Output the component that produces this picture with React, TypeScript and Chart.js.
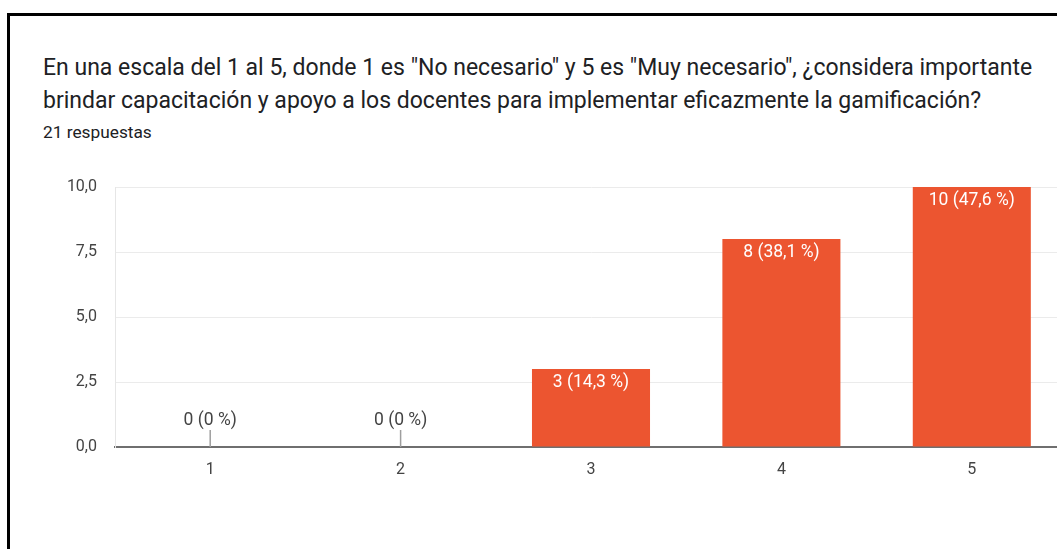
import React, { useEffect, useRef } from "react";
import { Chart, registerables } from "chart.js";

Chart.register(...registerables);

const categories = ["1", "2", "3", "4", "5"];
const counts = [0, 0, 3, 8, 10];
const totalResponses = 21;
const yTicks = [0, 2.5, 5, 7.5, 10];

const titleLine1 = 'En una escala del 1 al 5, donde 1 es "No necesario" y 5 es "Muy necesario", ¿considera importante';
const titleLine2 = "brindar capacitación y apoyo a los docentes para implementar eficazmente la gamificación?";
const subtitle = `${totalResponses} respuestas`;

const BAR_COLOR = "#ec5530";
const FONT = "Roboto, 'Noto Sans', sans-serif";

function fmtPct(v: number): string {
  if (v === 0) return "0";
  return ((v / totalResponses) * 100).toFixed(1).replace(".", ",");
}

const labelPlugin = {
  id: "barLabels",
  afterDatasetsDraw(chart: any) {
    const ctx = chart.ctx;
    const meta = chart.getDatasetMeta(0);
    const yScale = chart.scales.y;
    const zeroY = yScale.getPixelForValue(0);
    ctx.save();
    ctx.font = `17.5px ${FONT}`;
    ctx.textAlign = "center";
    ctx.textBaseline = "middle";
    meta.data.forEach((bar: any, i: number) => {
      const v = counts[i];
      const text = `${v} (${fmtPct(v)} %)`;
      if (v > 0) {
        ctx.fillStyle = "#ffffff";
        ctx.fillText(text, bar.x, bar.y + 14);
      } else {
        ctx.strokeStyle = "#9e9e9e";
        ctx.lineWidth = 1.5;
        ctx.beginPath();
        ctx.moveTo(bar.x, zeroY);
        ctx.lineTo(bar.x, zeroY - 17);
        ctx.stroke();
        ctx.fillStyle = "#444444";
        ctx.fillText(text, bar.x, zeroY - 26);
      }
    });
    ctx.restore();
  },
};

export default function App() {
  const canvasRef = useRef<HTMLCanvasElement | null>(null);

  useEffect(() => {
    if (!canvasRef.current) return;
    const chart = new Chart(canvasRef.current, {
      type: "bar",
      data: {
        labels: categories,
        datasets: [
          {
            data: counts,
            backgroundColor: BAR_COLOR,
            borderWidth: 0,
            barPercentage: 0.62,
            categoryPercentage: 1,
          },
        ],
      },
      options: {
        responsive: false,
        animation: false,
        devicePixelRatio: 1,
        layout: { padding: { top: 187, left: 0, right: 53, bottom: 62 } },
        plugins: {
          legend: { display: false },
          tooltip: { enabled: false },
        },
        scales: {
          x: {
            grid: { display: false, drawTicks: false },
            border: { display: true, color: "#6f6f6f", width: 2 },
            ticks: {
              color: "#444444",
              font: { family: FONT, size: 16 },
              padding: 13,
            },
            afterFit: (s: any) => {
              s.height = 40;
            },
          },
          y: {
            min: 0,
            max: 10,
            afterBuildTicks: (s: any) => {
              s.ticks = yTicks.map((v) => ({ value: v }));
            },
            grid: { color: "#ebebeb", lineWidth: 1, drawTicks: false },
            border: { display: true, color: "#e6e6e6", width: 1 },
            ticks: {
              color: "#444444",
              font: { family: FONT, size: 16 },
              padding: 18,
              callback: (v: any) => Number(v).toFixed(1).replace(".", ","),
            },
            afterFit: (s: any) => {
              s.width = 115;
            },
          },
        },
      },
      plugins: [labelPlugin],
    });
    return () => chart.destroy();
  }, []);

  return (
    <div
      style={{
        position: "fixed",
        left: 0,
        top: 0,
        width: 1057,
        height: 549,
        overflow: "hidden",
        background: "#ffffff",
      }}
    >
      <div
        style={{
          position: "absolute",
          left: 7,
          top: 13,
          width: 2000,
          height: 2000,
          borderLeft: "3px solid #000",
          borderTop: "3px solid #000",
        }}
      />
      <div
        style={{
          position: "absolute",
          left: 43,
          top: 51,
          fontFamily: FONT,
          fontSize: 23,
          lineHeight: "33px",
          color: "#202124",
          whiteSpace: "nowrap",
        }}
      >
        {titleLine1}
        <br />
        {titleLine2}
      </div>
      <div
        style={{
          position: "absolute",
          left: 43,
          top: 122,
          fontFamily: FONT,
          fontSize: 17.3,
          lineHeight: "20px",
          color: "#202124",
          whiteSpace: "nowrap",
        }}
      >
        {subtitle}
      </div>
      <canvas
        ref={canvasRef}
        width={1120}
        height={549}
        style={{ position: "absolute", left: 0, top: 0, width: 1120, height: 549 }}
      />
    </div>
  );
}
